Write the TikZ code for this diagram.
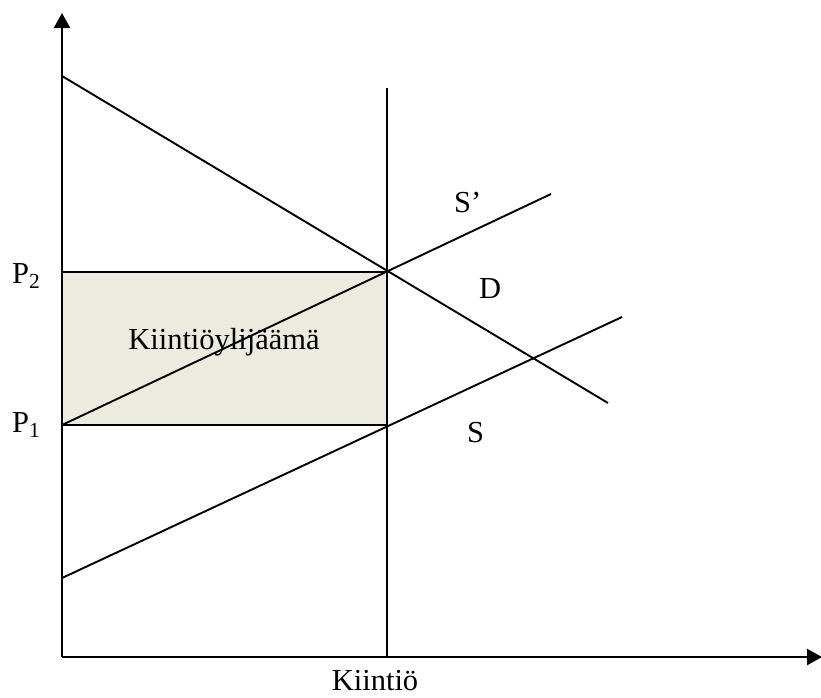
\documentclass[tikz,border=0pt]{standalone}
\usepackage{fontspec}
\setmainfont{Liberation Serif}
\usetikzlibrary{arrows.meta}
\begin{document}
\begin{tikzpicture}[x=1pt,y=-1pt,
  curve/.style={line width=1.9pt,black},
  axis/.style={line width=2.3pt,black,-{Triangle[length=15pt,width=16pt]}},
  lbl/.style={font=\fontsize{30.5}{36}\selectfont,inner sep=0pt,anchor=base west}]
\useasboundingbox (0,0) rectangle (821,697);
% coordinates
\coordinate (O) at (62,657);
\coordinate (Ytop) at (62,13);
\coordinate (Xend) at (822,657);
\coordinate (Dstart) at (62,76);
\coordinate (Dend) at (608,403);
\coordinate (Spstart) at (62,425);
\coordinate (Spend) at (551,194);
\coordinate (Sstart) at (62,578);
\coordinate (Send) at (622,317);
\coordinate (Qtop) at (387,88);
\coordinate (Qbot) at (387,657);
\coordinate (RTL) at (62,272);
\coordinate (RBR) at (387,425);
% surplus rectangle
\draw[curve,fill={rgb,255:red,237;green,234;blue,224}] (RTL) rectangle (RBR);
\node[font=\fontsize{30.5}{36}\selectfont,inner sep=0pt,anchor=base] (surplus) at (224,349) {Kiintiöylijäämä};
% curves
\draw[curve] (Dstart) -- (Dend);
\draw[curve] (Spstart) -- (Spend);
\draw[curve] (Sstart) -- (Send);
\draw[curve] (Qtop) -- (Qbot);
% axes
\draw[axis] (O) -- (Ytop);
\draw[axis] (O) -- (Xend);
% labels
\node[lbl] (p2) at (12,283) {P\textsubscript{2}};
\node[lbl] (p1) at (12,432) {P\textsubscript{1}};
\node[lbl] (sp) at (454,212) {S’};
\node[lbl] (d) at (479,298) {D};
\node[lbl] (s) at (467,442) {S};
\node[font=\fontsize{30.5}{36}\selectfont,inner sep=0pt,anchor=base] (q) at (375,690) {Kiintiö};
\end{tikzpicture}
\end{document}
